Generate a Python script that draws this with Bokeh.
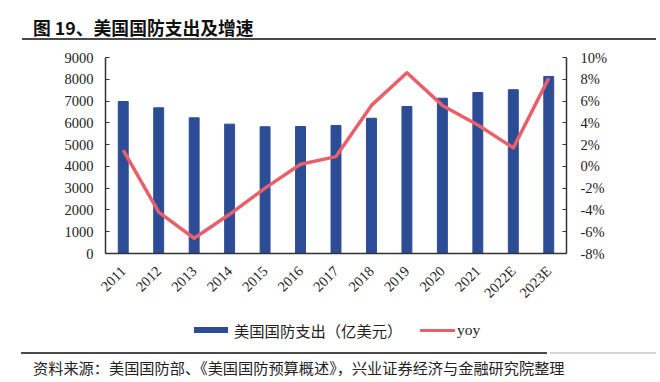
import math
from bokeh.plotting import figure
from bokeh.layouts import column
from bokeh.models import (FactorRange, Range1d, LinearAxis, PrintfTickFormatter,
                          FixedTicker, Div)
from bokeh.embed import file_html
from bokeh.resources import INLINE

years = ["2011", "2012", "2013", "2014", "2015", "2016", "2017", "2018",
         "2019", "2020", "2021", "2022E", "2023E"]
spending = [6980, 6690, 6230, 5940, 5820, 5830, 5880, 6210, 6750, 7130, 7390, 7520, 8130]
yoy = [1.5, -4.2, -6.6, -4.4, -2.0, 0.2, 0.9, 5.6, 8.6, 5.6, 3.8, 1.7, 8.1]
left_ticks = [0, 1000, 2000, 3000, 4000, 5000, 6000, 7000, 8000, 9000]
right_ticks = [-8, -6, -4, -2, 0, 2, 4, 6, 8, 10]

title_text = "图 19、美国国防支出及增速"
source_text = "资料来源：美国国防部、《美国国防预算概述》，兴业证券经济与金融研究院整理"
bar_name = "美国国防支出（亿美元）"
line_name = "yoy"

W = 656
H0, H1, H2 = 46, 272, 62
BAR = "#2C4D96"
RED = "#E8606A"
AX = "#333333"
RULE = "#4a4a4a"
SERIF = "Liberation Serif"
CJK = "Noto Sans CJK SC"


def abs_box(left, top, width, height, color, extra=""):
    return (f'<div style="position:absolute;left:{left}px;top:{top}px;'
            f'width:{width}px;height:{height}px;background:{color};{extra}"></div>')


def abs_text(left, top, t, font, size, lh, weight="normal", color="#222222"):
    return (f'<div style="position:absolute;left:{left}px;top:{top}px;'
            f"white-space:nowrap;font-family:'{font}';font-size:{size};"
            f'line-height:{lh}px;font-weight:{weight};color:{color};">{t}</div>')


def panel(h, inner):
    html = (f'<div style="position:relative;width:{W}px;height:{h}px;'
            f'margin:0;padding:0;overflow:visible;">{inner}</div>')
    return Div(text=html, width=W, height=h, margin=0,
               styles={"overflow": "visible", "margin": "0", "padding": "0"})


# ---- header
header = panel(H0,
               abs_text(33, 17, title_text, CJK, "17.8px", 20, weight="bold",
                        color="#111111")
               + abs_box(22, 38, W - 22, 2, RULE))

# ---- main chart
p = figure(width=W, height=H1, x_range=FactorRange(*years, range_padding=0),
           y_range=Range1d(0, 9000), output_backend="svg", toolbar_location=None,
           min_border_left=105, min_border_right=W - 566, min_border_top=57 - H0,
           min_border_bottom=H0 + H1 - 253, outline_line_color=None, margin=0)
p.extra_y_ranges = {"pct": Range1d(-8, 10)}

p.vbar(x=years, top=spending, width=0.28, color=BAR)
p.line(x=years, y=yoy, y_range_name="pct", line_color=RED, line_width=3.5,
       line_join="round")

p.xgrid.visible = False
p.ygrid.visible = False

ax = p.yaxis[0]
ax.ticker = FixedTicker(ticks=left_ticks)
rax = LinearAxis(y_range_name="pct", ticker=FixedTicker(ticks=right_ticks),
                 formatter=PrintfTickFormatter(format="%d%%"))
p.add_layout(rax, "right")
for a in (ax, rax):
    a.major_tick_in = 4
    a.major_tick_out = 0
    a.minor_tick_line_color = None
    a.axis_line_color = AX
    a.axis_line_width = 1.5
    a.major_tick_line_color = AX
    a.major_label_text_font = SERIF
    a.major_label_text_font_size = "14.5px"
    a.major_label_text_color = "#222222"
ax.major_label_standoff = 12
rax.major_label_standoff = 14

xa = p.xaxis[0]
xa.major_label_orientation = math.pi / 4
xa.major_tick_line_color = None
xa.axis_line_color = AX
xa.axis_line_width = 1.5
xa.major_label_text_font = SERIF
xa.major_label_text_font_size = "14.5px"
xa.major_label_text_color = "#222222"
xa.major_label_standoff = 9

# ---- legend + source
footer = panel(H2,
               abs_box(194, 9, 34, 6, BAR)
               + abs_text(234, 3, bar_name, CJK, "15.3px", 18)
               + abs_box(420, 10.5, 35, 3, RED)
               + abs_text(457, 3, line_name, SERIF, "15.5px", 18)
               + abs_box(21, 34, 526, 2, RULE)
               + abs_box(550, 34, W - 550, 2, "#d6d6d6")
               + abs_text(33, 40, source_text, CJK, "15.2px", 18))

layout = column(header, p, footer, spacing=0)
open("out.html", "w").write(file_html(layout, INLINE))
